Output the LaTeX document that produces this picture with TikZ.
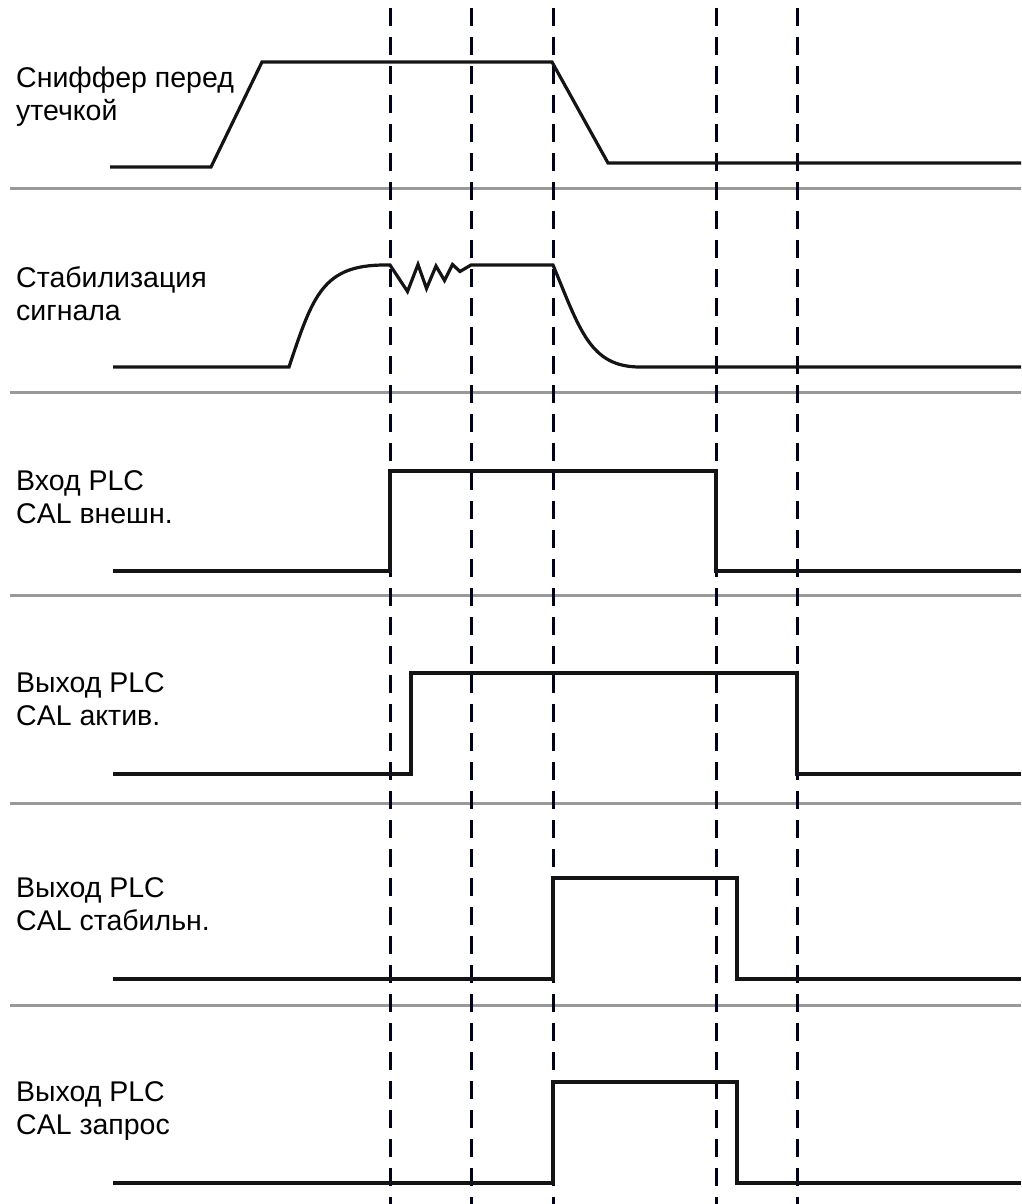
\documentclass[tikz,border=0pt]{standalone}
\usepackage{fontspec}
\setmainfont{Liberation Sans}
\begin{document}
\begin{tikzpicture}[x=1pt,y=-1pt,
  sig/.style={line width=3.2pt,color=black!92,line join=miter},
  sep/.style={line width=3pt,color=black!40},
  guide/.style={line width=3pt,color=black!88!blue,dash pattern=on 18pt off 11pt},
  lbl/.style={anchor=base west,inner sep=0pt,font=\fontsize{28.5}{33}\selectfont}]
\useasboundingbox (0,0) rectangle (1021,1204);
% separators
\foreach \yy in {188,392,595,803,1005}
  \draw[sep] (10,\yy) -- (1021,\yy);
% dashed time markers
\foreach \xx in {390,471,553,716,797}
  \draw[guide] (\xx,8) -- (\xx,1204);
% labels
\node[lbl] (l1) at (16,88) {\begin{tabular}[t]{@{}l@{}}Сниффер перед\\утечкой\end{tabular}};
\node[lbl] (l2) at (16,287) {\begin{tabular}[t]{@{}l@{}}Стабилизация\\сигнала\end{tabular}};
\node[lbl] (l3) at (16,490) {\begin{tabular}[t]{@{}l@{}}Вход PLC\\CAL внешн.\end{tabular}};
\node[lbl] (l4) at (16,692) {\begin{tabular}[t]{@{}l@{}}Выход PLC\\CAL актив.\end{tabular}};
\node[lbl] (l5) at (16,897) {\begin{tabular}[t]{@{}l@{}}Выход PLC\\CAL стабильн.\end{tabular}};
\node[lbl] (l6) at (16,1101) {\begin{tabular}[t]{@{}l@{}}Выход PLC\\CAL запрос\end{tabular}};
% row 1
\draw[sig] (110,167) -- (211,167) -- (262,62) -- (552,62) -- (608,163) -- (1021,163);
% row 2
\draw[sig] (113,367) -- (289,367) .. controls (313,295) and (323,265) .. (385,265)
  -- (390,265) -- (407.5,291.5) -- (418,264.5) -- (426.5,288.5) -- (436,266) -- (444.5,280.5)
  -- (452.5,264.5) -- (460,271.5) -- (471,265) -- (553,265)
  .. controls (580,330) and (590,367) .. (640,367) -- (1021,367);
% row 3
\draw[sig] (113,571) -- (390,571) -- (390,471) -- (716,471) -- (716,571) -- (1021,571);
% row 4
\draw[sig] (113,774) -- (411,774) -- (411,673) -- (797,673) -- (797,774) -- (1021,774);
% row 5
\draw[sig] (113,979) -- (553,979) -- (553,878) -- (737,878) -- (737,979) -- (1021,979);
% row 6
\draw[sig] (113,1183) -- (553,1183) -- (553,1082) -- (737,1082) -- (737,1183) -- (1021,1183);
\end{tikzpicture}
\end{document}
